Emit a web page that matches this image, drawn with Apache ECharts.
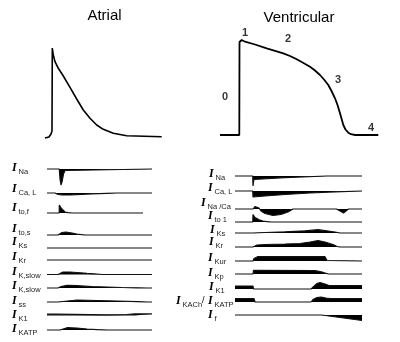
<!DOCTYPE html>
<html>
<head>
<meta charset="utf-8">
<script src="https://cdn.jsdelivr.net/npm/echarts@6/dist/echarts.min.js"></script>
<style>
html,body{margin:0;padding:0;background:#fff}
#c{width:400px;height:342px}
</style>
</head>
<body>
<div id="c"></div>
<script>
// Action potentials: time (ms) and membrane potential (mV)
const atrialApTime = [0, 8, 12, 14, 14.6, 16.6, 20, 26.6, 36.6, 50, 63.4, 76.6, 90, 103.4, 116.6, 136.6, 163.4, 233.4];
const atrialApMv   = [-81, -80, -77, -74, 9, 2, -4.7, -11.3, -19, -30.3, -42, -53, -61.3, -68, -72.3, -76.3, -78.7, -79.7];
const ventApTime   = [0, 38.6, 39, 43.4, 50, 70, 93.4, 110, 126.6, 140, 153.4, 166, 180, 190, 200, 208, 216.6, 223,
                      230, 235, 240, 243.6, 246.6, 251, 256.6, 262, 270, 316.6];
const ventApMv     = [-78, -78, 15, 17, 15.3, 12.5, 8.7, 6.2, 3.7, 1, -2.3, -5.8, -9.7, -13.5, -18, -22.5, -28, -34,
                      -41.3, -48, -56.3, -62.5, -68, -72.5, -75.7, -77.2, -78, -78];

// Phase labels of the ventricular action potential: [time, mV, text]
const phaseLabels = [[10, -40, '0'], [50, 24, '1'], [136, 18, '2'], [236, -23, '3'], [302, -71, '4']];

// Atrial ionic currents: [time (ms), amplitude], outward positive
const atrialINa    = [[0,0],[24.6,0],[25,-3],[26,-10],[28,-16],[29.4,-17],[30.5,-12],[33,-5],[36,-1.5],[38,0],[210,0]];
const atrialICaL   = [[0,0],[16,0],[22,-1.5],[30,-2],[46,-2],[70,-1.3],[90,-0.8],[120,-0.3],[140,0],[210,0]];
const atrialItof   = [[0,0],[24.4,0],[24.6,8],[26,7],[29,4.5],[32,2.5],[36,1],[42,0.3],[50,0],[192,0]];
const atrialItos   = [[0,0],[22,0],[26,1],[30,2.5],[38,3],[50,2],[60,0.8],[76,0],[210,0]];
const atrialIKs    = [[0,0],[210,0]];
const atrialIKr    = [[0,0],[210,0]];
const atrialIKslow1 = [[0,0],[22,0],[26,1.5],[32,2.5],[46,2.5],[60,2],[80,1.2],[100,0.5],[110,0],[210,0]];
const atrialIKslow2 = [[0,0],[22,0],[28,1.5],[40,2.7],[60,2.3],[90,1.5],[120,1],[150,0.5],[180,0.2],[200,0],[210,0]];
const atrialIss    = [[0,0],[22,0],[25,2],[60,2],[100,1.5],[140,1],[180,0.4],[200,0],[210,0]];
const atrialIK1    = [[0,1.3],[20,1.3],[24,0.6],[120,0.7],[160,1],[175,1.6],[210,1.6]];
const atrialIKATP  = [[0,0],[26,0],[30,1.5],[40,2.3],[60,2],[80,1],[100,0.4],[120,0],[210,0]];
const atrialNames  = ['Na', 'Ca, L', 'to,f', 'to,s', 'Ks', 'Kr', 'K,slow', 'K,slow', 'ss', 'K1', 'KATP'];

// Ventricular ionic currents: [time (ms), amplitude], outward positive
const ventINa   = [[0,0],[35.5,0],[36,-10],[37,-6],[38,-3.5],[40,-3],[100,-1.6],[184,0],[254,0]];
const ventICaL  = [[0,0],[35.5,0],[36,-6],[60,-5],[100,-3.5],[150,-2],[200,-0.8],[254,0]];
const ventINaCa = [[0,0],[36,0],[40,2.5],[44,3.5],[48,1],[52,-2],[60,-4.5],[76,-6.5],[92,-5.5],[106,-3],[116,0],[203,0],[217,-4],[227,0],[254,0]];
const ventIto1  = [[0,0],[35.5,0],[36,7.5],[38,6],[40,4.5],[44,3],[50,1.8],[56,1],[64,0.4],[72,0],[254,0]];
const ventIKs   = [[0,0],[36,0],[60,0.5],[100,1.2],[140,2.2],[166,3.3],[180,2.5],[200,1],[210,0],[254,0]];
const ventIKr   = [[0,0],[36,0],[44,2],[60,2.5],[100,3],[130,3.5],[150,5],[166,6.5],[180,5],[196,2.5],[204,0.5],[210,0],[254,0]];
const ventIKur  = [[0,0],[36,0],[38,2.5],[42,4],[46,4.5],[180,4.3],[184,0.5],[186,0],[254,0]];
const ventIKp   = [[0,0],[36,0],[37,3.7],[160,3.5],[175,1.8],[187,0],[254,0]];
const ventIK1   = [[0,3],[36,3],[37,0],[152,0],[156,2],[164,5.5],[170,6.5],[180,5],[188,3.5],[254,3.3]];
const ventIKACh = [[0,3.5],[38,3.5],[40,0],[152,0],[156,2.5],[164,4.5],[172,5],[182,4],[190,3.5],[254,3.5]];
const ventIf    = [[0,0],[173,0],[176,-1.5],[254,-5.5]];
const ventNames = ['Na', 'Ca, L', 'Na /Ca', 'to 1', 'Ks', 'Kr', 'Kur', 'Kp', 'K1', 'KATP', 'f'];

const atrialCurrents = [atrialINa, atrialICaL, atrialItof, atrialItos, atrialIKs, atrialIKr,
  atrialIKslow1, atrialIKslow2, atrialIss, atrialIK1, atrialIKATP];
const ventCurrents = [ventINa, ventICaL, ventINaCa, ventIto1, ventIKs, ventIKr,
  ventIKur, ventIKp, ventIK1, ventIKACh, ventIf];

// Layout: baseline row of each trace and vertical centre of its label (px)
const atrialRowY   = [169, 193, 213, 235, 248, 260, 274.5, 288, 302, 315.5, 330];
const atrialLabelY = [168, 189, 208, 229, 242, 257, 272, 286, 301, 315, 329];
const ventRowY     = [176, 191, 209, 222, 233, 247, 261, 274, 289, 302, 315];
const ventLabelY   = [174, 188, 203, 216, 230, 242, 258, 273, 287, 301, 315];
const ventLabelX   = [209, 208, 201, 208, 210, 209, 208, 208, 209, 208, 208];

const chart = echarts.init(document.getElementById('c'), null, {renderer: 'canvas'});

const hiddenAxis = (extra) => Object.assign({
  type: 'value', show: false, axisLine: {show: false}, splitLine: {show: false}
}, extra);

const series = [];
series.push({
  type: 'line', xAxisIndex: 0, yAxisIndex: 0, symbol: 'none',
  lineStyle: {color: '#000', width: 1.6},
  data: atrialApTime.map((t, i) => [t, atrialApMv[i]])
});
series.push({
  type: 'line', xAxisIndex: 1, yAxisIndex: 1, symbol: 'none',
  lineStyle: {color: '#000', width: 1.8},
  data: ventApTime.map((t, i) => [t, ventApMv[i]])
});

function currentSeries(trace, rowY, axis) {
  const base = -rowY;
  return {
    type: 'line', xAxisIndex: axis, yAxisIndex: axis, symbol: 'none',
    lineStyle: {color: '#111', width: 1.2},
    areaStyle: {color: '#000', opacity: 1, origin: base},
    data: trace.map(p => [p[0], base + p[1]])
  };
}
atrialCurrents.forEach((tr, i) => series.push(currentSeries(tr, atrialRowY[i], 2)));
ventCurrents.forEach((tr, i) => series.push(currentSeries(tr, ventRowY[i], 3)));

// Text: titles and current labels
const graphic = [];
const textEl = (x, y, text, font, align, color) => ({
  type: 'text', x: x, y: y, silent: true,
  style: {text: text, font: font, fill: color || '#000',
          align: align || 'left', textAlign: align || 'left',
          verticalAlign: 'middle', textVerticalAlign: 'middle'}
});
graphic.push(textEl(104.5, 16, 'Atrial', '15px "Liberation Sans"', 'center'));
graphic.push(textEl(299, 18, 'Ventricular', '15px "Liberation Sans"', 'center'));

const IFONT = 'italic bold 12px "Liberation Serif"';
const SFONT = '7.5px "Liberation Sans"';
atrialNames.forEach((n, i) => {
  graphic.push(textEl(12, atrialLabelY[i], 'I', IFONT, 'left'));
  graphic.push(textEl(18.5, atrialLabelY[i] + 3.5, n, SFONT, 'left', '#222'));
});
ventNames.forEach((n, i) => {
  const x = ventLabelX[i];
  graphic.push(textEl(x, ventLabelY[i], 'I', IFONT, 'left'));
  graphic.push(textEl(x + 6.5, ventLabelY[i] + 3.5, n, SFONT, 'left', '#222'));
  if (n === 'KATP') {
    graphic.push(textEl(176, ventLabelY[i], 'I', IFONT, 'left'));
    graphic.push(textEl(182.5, ventLabelY[i] + 3.5, 'KACh', SFONT, 'left', '#222'));
    graphic.push(textEl(202, ventLabelY[i], '/', '9px "Liberation Sans"', 'left'));
  }
});

chart.setOption({
  animation: false,
  backgroundColor: '#fff',
  grid: [
    {left: 45, top: 20, width: 117, height: 127},
    {left: 220, top: 20, width: 158, height: 127},
    {left: 47, top: 150, width: 105, height: 192},
    {left: 235, top: 150, width: 127, height: 192}
  ],
  xAxis: [
    hiddenAxis({gridIndex: 0, min: 0, max: 234}),
    hiddenAxis({gridIndex: 1, min: 0, max: 316}),
    hiddenAxis({gridIndex: 2, min: 0, max: 210}),
    hiddenAxis({gridIndex: 3, min: 0, max: 254})
  ],
  yAxis: [
    hiddenAxis({gridIndex: 0, min: -90, max: 37}),
    hiddenAxis({gridIndex: 1, min: -90, max: 37}),
    hiddenAxis({gridIndex: 2, min: -342, max: -150}),
    hiddenAxis({gridIndex: 3, min: -342, max: -150})
  ],
  series: series.concat([{
    type: 'scatter', xAxisIndex: 1, yAxisIndex: 1, symbolSize: 0, silent: true,
    data: phaseLabels.map(p => ({value: [p[0], p[1]], name: p[2]})),
    label: {show: true, formatter: '{b}', position: 'inside',
            fontFamily: 'Liberation Sans', fontWeight: 'bold', fontSize: 11, color: '#000'}
  }]),
  graphic: graphic
});
</script>
</body>
</html>
